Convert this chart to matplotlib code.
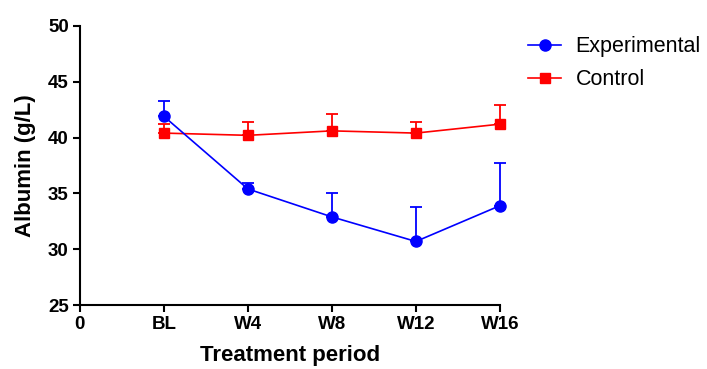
import matplotlib
matplotlib.use("Agg")
import matplotlib.pyplot as plt
from matplotlib.lines import Line2D
import numpy as np

plt.rcParams['font.family'] = ['Liberation Sans', 'DejaVu Sans']

tick_labels = ['0', 'BL', 'W4', 'W8', 'W12', 'W16']
periods = [1, 2, 3, 4, 5]
exp_mean = [41.9, 35.4, 32.9, 30.7, 33.9]
exp_err = [1.35, 0.5, 2.1, 3.1, 3.8]
ctl_mean = [40.4, 40.2, 40.6, 40.4, 41.2]
ctl_err = [0.8, 1.2, 1.55, 1.0, 1.75]

fig = plt.figure(figsize=(7.07, 3.69), dpi=100)
ax = fig.add_axes([0.113, 0.173, 0.594, 0.757])

ax.errorbar(periods, ctl_mean, yerr=[np.zeros(len(ctl_err)), ctl_err], color='#ff0000',
            marker='s', markersize=7.5, linewidth=1.2, elinewidth=1.3, capsize=4, capthick=1.3,
            clip_on=False, zorder=3)
ax.errorbar(periods, exp_mean, yerr=[np.zeros(len(exp_err)), exp_err], color='#0000ff',
            marker='o', markersize=8, linewidth=1.2, elinewidth=1.3, capsize=4, capthick=1.3,
            clip_on=False, zorder=4)

ax.set_xlim(0, 5)
ax.set_ylim(25, 50)
ax.set_xticks(range(6))
ax.set_xticklabels(tick_labels)
ax.set_yticks([25, 30, 35, 40, 45, 50])
for s in ['top', 'right']:
    ax.spines[s].set_visible(False)
for s in ['left', 'bottom']:
    ax.spines[s].set_linewidth(1.5)
ax.tick_params(direction='out', length=5, width=1.5, labelsize=13.5, pad=3)
for lbl in ax.get_xticklabels() + ax.get_yticklabels():
    lbl.set_fontweight('bold')
ax.set_xlabel('Treatment period', fontsize=16, fontweight='bold')
ax.set_ylabel('Albumin (g/L)', fontsize=16, fontweight='bold')
ax.xaxis.set_label_coords(0.5, -0.142)
ax.yaxis.set_label_coords(-0.105, 0.5)

handles = [Line2D([], [], color='#0000ff', marker='o', markersize=8, linewidth=1.2),
           Line2D([], [], color='#ff0000', marker='s', markersize=7.5, linewidth=1.2)]
fig.legend(handles, ['Experimental', 'Control'], loc='upper left', bbox_to_anchor=(0.723, 0.948),
           frameon=False, fontsize=15.5, handlelength=1.5, labelspacing=0.55, handletextpad=0.7,
           borderpad=0.3)

fig.savefig('out.png', dpi=100)
